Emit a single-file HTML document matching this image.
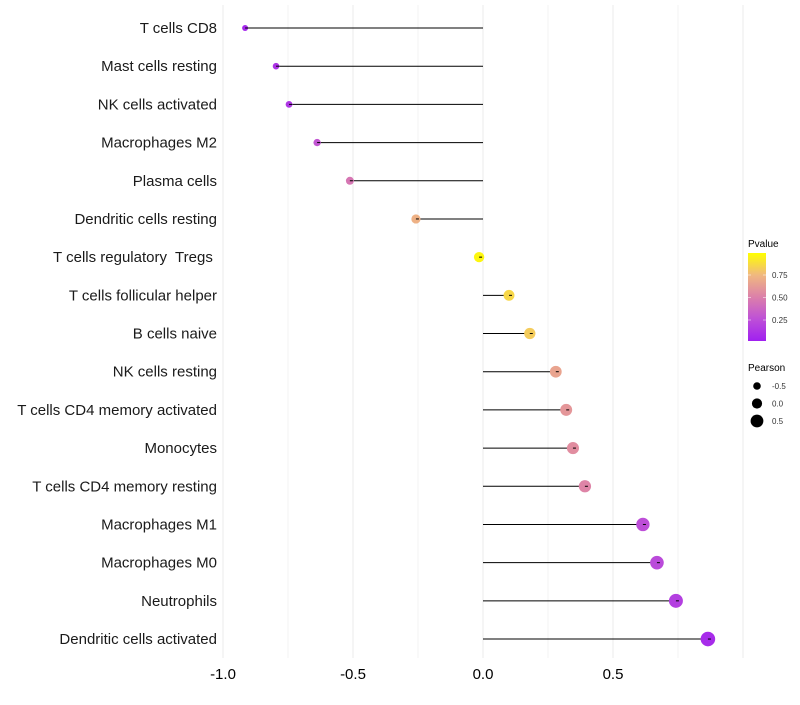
<!DOCTYPE html>
<html><head><meta charset="utf-8"><style>
body{margin:0;background:#fff;font-family:"Liberation Sans",sans-serif;}
svg text{font-family:"Liberation Sans",sans-serif;white-space:pre;}
</style></head><body>
<svg id="chart" width="800" height="700" xmlns="http://www.w3.org/2000/svg"></svg>
<script>
const categories=["T cells CD8","Mast cells resting","NK cells activated","Macrophages M2","Plasma cells","Dendritic cells resting","T cells regulatory  Tregs\u00a0","T cells follicular helper","B cells naive","NK cells resting","T cells CD4 memory activated","Monocytes","T cells CD4 memory resting","Macrophages M1","Macrophages M0","Neutrophils","Dendritic cells activated"];
const pearson=[-0.915,-0.796,-0.746,-0.638,-0.512,-0.258,-0.015,0.10,0.18,0.28,0.32,0.346,0.392,0.615,0.669,0.742,0.865];
const pvalue=[0.04,0.1,0.12,0.28,0.45,0.72,0.97,0.86,0.82,0.66,0.6,0.56,0.52,0.24,0.22,0.16,0.06];
const xTicks=[-1.0,-0.5,0.0,0.5];
const xTickLabels=["-1.0","-0.5","0.0","0.5"];
const pTicks=[0.25,0.5,0.75];
const pTickLabels=["0.25","0.50","0.75"];
const sizeLegend=[-0.5,0,0.5];
const sizeLegendLabels=["-0.5","0.0","0.5"];

const svg=document.getElementById('chart');
const NS="http://www.w3.org/2000/svg";
const x=v=>483+v*260;
const y=i=>28+i*38.19;
const r=v=>Math.max(1.2,5.2+2.4*v);
const stops=[[0,[160,32,240]],[0.25,[190,80,215]],[0.5,[220,128,170]],[0.75,[240,184,128]],[1,[255,255,0]]];
function col(p){for(let k=1;k<stops.length;k++){if(p<=stops[k][0]){const a=stops[k-1],b=stops[k];const t=(p-a[0])/(b[0]-a[0]);return 'rgb('+a[1].map((c,j)=>Math.round(c+(b[1][j]-c)*t)).join(',')+')';}}return 'rgb(255,255,0)';}
function mk(tag,attrs,parent){const e=document.createElementNS(NS,tag);for(const k in attrs)e.setAttribute(k,attrs[k]);(parent||svg).appendChild(e);return e;}

for(let v=-1;v<=1.01;v+=0.25){
  const g=mk('line',{x1:x(v),x2:x(v),y1:5,y2:658,stroke:'#ebebeb','stroke-width':v*4%2===0?1:0.6});
  
  
}
xTicks.forEach((v,i)=>{
  const t=mk('text',{x:x(v),y:679,'font-size':15,'text-anchor':'middle',fill:'#000'});
  t.textContent=xTickLabels[i];
  
  
});
categories.forEach((c,i)=>{
  const t=mk('text',{x:217,y:y(i)+5,'font-size':15,'text-anchor':'end',fill:'#1a1a1a'});
  t.textContent=c;
  
  
  const l=mk('line',{x1:x(0),x2:x(pearson[i]),y1:y(i),y2:y(i),stroke:'#000','stroke-width':1});
  
  
  const d=mk('circle',{cx:x(pearson[i]),cy:y(i),r:r(pearson[i]),fill:col(pvalue[i])});
  
  
  const l2=mk('line',{x1:x(pearson[i]),x2:x(pearson[i])+3,y1:y(i),y2:y(i),stroke:'#000','stroke-width':1});
  
  
});
const lt=mk('text',{x:748,y:247,'font-size':10,fill:'#000'});lt.textContent='Pvalue';


const defs=mk('defs',{});
const grad=mk('linearGradient',{id:'pg',x1:0,y1:1,x2:0,y2:0},defs);
stops.forEach(s=>mk('stop',{offset:s[0],'stop-color':col(s[0])},grad));
const bar=mk('rect',{x:748,y:253,width:18,height:88,fill:'url(#pg)'});


const py=p=>342.5-p*90;
pTicks.forEach((p,i)=>{
  mk('line',{x1:748,x2:751,y1:py(p),y2:py(p),stroke:'#fff','stroke-width':0.5});
  mk('line',{x1:763,x2:766,y1:py(p),y2:py(p),stroke:'#fff','stroke-width':0.5});
  const t=mk('text',{x:772,y:py(p)+3,'font-size':8,fill:'#333'});t.textContent=pTickLabels[i];
  
  
});
const st=mk('text',{x:748,y:371,'font-size':10,fill:'#000'});st.textContent='Pearson';


sizeLegend.forEach((v,i)=>{
  const c=mk('circle',{cx:757,cy:386+i*17.5,r:3.8+i*1.3,fill:'#000'});
  
  
  const t=mk('text',{x:772,y:389+i*17.5,'font-size':8,fill:'#333'});t.textContent=sizeLegendLabels[i];
  
  
});
</script>
</body></html>
